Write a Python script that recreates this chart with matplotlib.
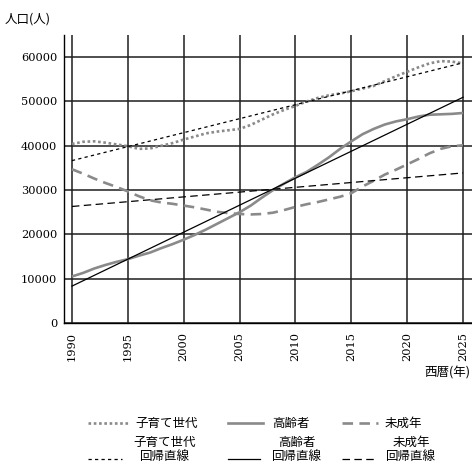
import numpy as np
import matplotlib
matplotlib.use("Agg")
import matplotlib.pyplot as plt
from matplotlib.lines import Line2D

# ---- data -------------------------------------------------------------
years = list(range(1990, 2026))

parenting = [40400, 40900, 41000, 40700, 40300, 39900, 39300, 39400, 40000, 40600,
             41400, 42100, 42800, 43200, 43500, 43800, 44700, 45900, 47100, 48100,
             49000, 50000, 50800, 51400, 51800, 52300, 52900, 53500, 54600, 55700,
             56700, 57700, 58600, 59100, 59000, 58600]

elderly = [10500, 11300, 12300, 13100, 13800, 14400, 15200, 15900, 16900, 17800,
           18800, 19900, 21100, 22400, 23700, 25000, 26500, 28300, 30000, 31500,
           32900, 34100, 35700, 37400, 39300, 41000, 42600, 43800, 44800, 45500,
           46000, 46600, 47000, 47100, 47200, 47400]

minors = [34700, 33700, 32600, 31600, 30700, 29700, 28600, 27700, 27200, 26900,
          26500, 26100, 25600, 25100, 24800, 24600, 24500, 24600, 24900, 25500,
          26200, 26800, 27300, 27900, 28500, 29300, 30800, 32100, 33500, 34600,
          35800, 37000, 38300, 39300, 39900, 40100]

x_ticks = [1990, 1995, 2000, 2005, 2010, 2015, 2020, 2025]
y_ticks = [0, 10000, 20000, 30000, 40000, 50000, 60000]

series_labels = ["子育て世代", "高齢者", "未成年"]
fit_labels = ["子育て世代\n回帰直線", "高齢者\n回帰直線", "未成年\n回帰直線"]

# ---- styles -----------------------------------------------------------
JP = ["Noto Sans CJK JP", "DejaVu Sans"]
NUM = "DejaVu Serif"
GRAY = "#8a8a8a"
data_styles = [
    dict(color=GRAY, lw=1.9, ls=(0, (1, 1))),
    dict(color=GRAY, lw=1.9, ls="-"),
    dict(color=GRAY, lw=1.9, ls=(0, (4, 2.4))),
]
fit_styles = [
    dict(color="black", lw=0.9, ls=(0, (2.6, 2.6))),
    dict(color="black", lw=0.9, ls="-"),
    dict(color="black", lw=0.9, ls=(0, (6, 3.5))),
]

W = H = 472
fig = plt.figure(figsize=(4.72, 4.72), dpi=100)
ax = fig.add_axes([64 / W, 1 - 323 / H, (W - 64) / W, (323 - 35) / H])

yrs = np.array(years, dtype=float)
for vals, st in zip([parenting, elderly, minors], data_styles):
    ax.plot(yrs, vals, solid_capstyle="butt", dash_capstyle="butt", zorder=3, **st)

# least-squares regression line of each series
for vals, st in zip([parenting, elderly, minors], fit_styles):
    k, b = np.polyfit(yrs, np.array(vals, dtype=float), 1)
    ends = np.array([years[0], years[-1]], dtype=float)
    ax.plot(ends, k * ends + b, zorder=4, **st)

ax.set_xlim(1989.29, 2025.8)
ax.set_ylim(0, 65000)
ax.set_xticks(x_ticks)
ax.set_yticks(y_ticks)
ax.set_xticklabels([str(v) for v in x_ticks], rotation=90, fontfamily=NUM, fontsize=8.2)
ax.set_yticklabels([str(v) for v in y_ticks], fontfamily=NUM, fontsize=8.2)
ax.tick_params(axis="both", length=0)
ax.tick_params(axis="y", pad=5)
ax.tick_params(axis="x", pad=6.5)
ax.grid(True, color="#1e1e1e", lw=1.1)
ax.set_axisbelow(True)
for side in ("top", "right"):
    ax.spines[side].set_visible(False)
for side in ("left", "bottom"):
    ax.spines[side].set_color("black")
    ax.spines[side].set_linewidth(1.0)

# axis titles
fig.text(5 / W, 1 - 19 / H, "人口(人)", family=JP, fontsize=9, va="center", ha="left")
fig.text(470 / W, 1 - 373 / H, "西暦(年)", family=JP, fontsize=9, va="center", ha="right")

# ---- legend -----------------------------------------------------------
def px(x, y):
    return x / W, 1 - y / H

row1 = [(88, 128, 135), (228, 263, 272), (342, 378, 385)]
for (x0, x1, tx), st, lab in zip(row1, data_styles, series_labels):
    (a, yy), (b, _) = px(x0, 423), px(x1, 423)
    fig.add_artist(Line2D([a, b], [yy, yy], transform=fig.transFigure, **st))
    fig.text(*px(tx, 423), lab, family=JP, fontsize=9, va="center", ha="left")

row2 = [(88, 122, 165), (228, 260, 297), (342, 375, 411)]
for (x0, x1, tc), st, lab in zip(row2, fit_styles, fit_labels):
    (a, yy), (b, _) = px(x0, 459), px(x1, 459)
    fig.add_artist(Line2D([a, b], [yy, yy], transform=fig.transFigure, **st))
    fig.text(*px(tc, 449.5), lab, family=JP, fontsize=9, va="center", ha="center",
             multialignment="center", linespacing=1.1)

fig.savefig("out.png", dpi=100)
